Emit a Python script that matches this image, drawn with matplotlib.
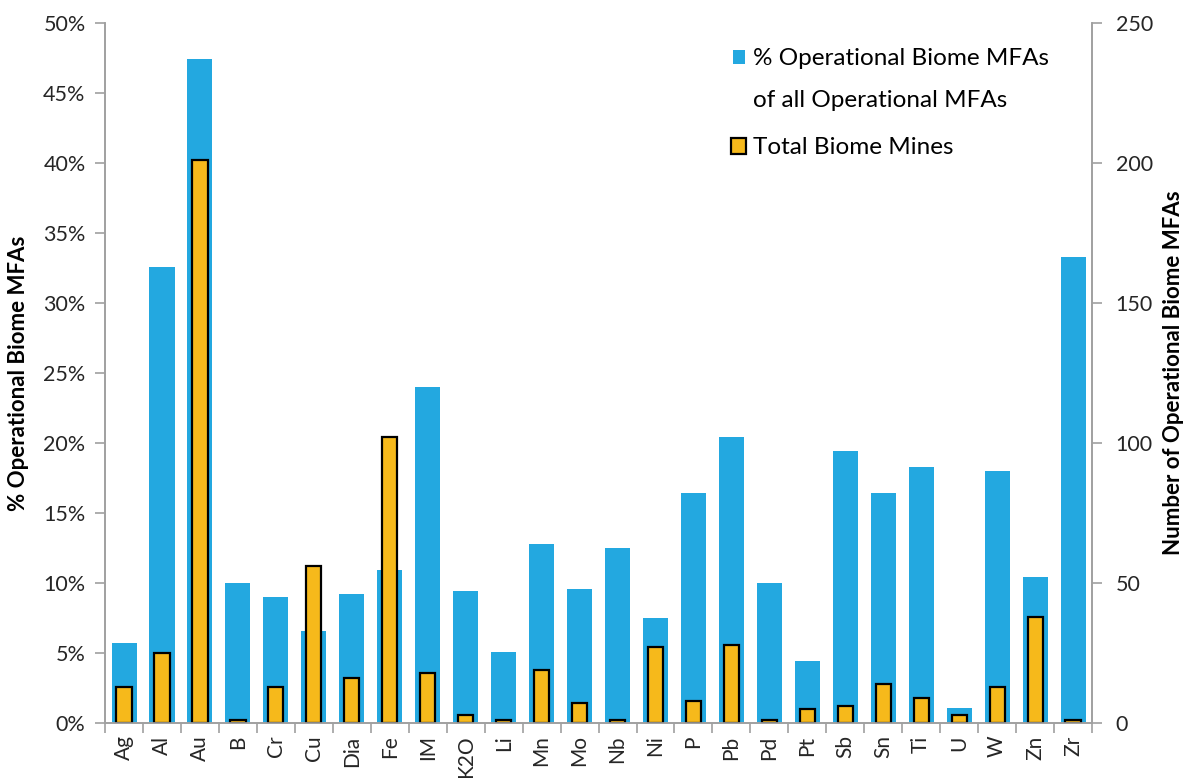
import matplotlib
matplotlib.use("Agg")
import matplotlib.pyplot as plt
from matplotlib.patches import Patch
from matplotlib.ticker import FuncFormatter

# commodities on the x axis
commodities = ["Ag", "Al", "Au", "B", "Cr", "Cu", "Dia", "Fe", "IM", "K2O", "Li", "Mn", "Mo",
               "Nb", "Ni", "P", "Pb", "Pd", "Pt", "Sb", "Sn", "Ti", "U", "W", "Zn", "Zr"]

# % operational biome MFAs of all operational MFAs (left axis)
pct_biome = [5.7, 32.6, 47.4, 10.0, 9.0, 6.6, 9.2, 10.9, 24.0, 9.4, 5.1, 12.8, 9.6,
             12.5, 7.5, 16.4, 20.4, 10.0, 4.4, 19.4, 16.4, 18.3, 1.05, 18.0, 10.4, 33.3]

# total biome mines (right axis)
total_mines = [13, 25, 201, 1, 13, 56, 16, 102, 18, 3, 1, 19, 7,
               1, 27, 8, 28, 1, 5, 6, 14, 9, 3, 13, 38, 1]

blue = "#23a8e0"
gold = "#f6b91b"
grey = "#a0a0a0"
txt = "#262626"

plt.rcParams["font.family"] = ["Lato", "DejaVu Sans"]

fig = plt.figure(figsize=(11.87, 7.78), dpi=100)
ax = fig.add_axes([0.0885, 0.0707, 0.8315, 0.8997])
ax2 = ax.twinx()

x = list(range(len(commodities)))
ax.bar(x, pct_biome, width=0.66, color=blue)
ax2.bar(x, total_mines, width=0.4, color=gold, edgecolor="black", linewidth=1.6)

ax.set_xlim(-0.5, len(commodities) - 0.5)
ax.set_ylim(0, 50)
ax2.set_ylim(0, 250)
ax.set_yticks(range(0, 51, 5))
ax2.set_yticks(range(0, 251, 50))
ax.yaxis.set_major_formatter(FuncFormatter(lambda v, p: "%d%%" % v))

# ticks between categories, labels at centers
ax.set_xticks([i - 0.5 for i in range(len(commodities) + 1)])
ax.set_xticklabels([])
ax.set_xticks(x, minor=True)
ax.set_xticklabels(commodities, minor=True, rotation=90, fontsize=15, color=txt)
ax.tick_params(axis="x", which="minor", length=0, pad=9)
ax.tick_params(axis="x", which="major", length=7, color=grey, width=1.2)
ax.tick_params(axis="y", length=7, color=grey, width=1.2, labelsize=15.5, labelcolor=txt, pad=7)
ax2.tick_params(axis="y", length=7, color=grey, width=1.2, labelsize=15.5, labelcolor=txt, pad=10)

for a in (ax, ax2):
    a.spines["top"].set_visible(False)
    for s in ("left", "right", "bottom"):
        a.spines[s].set_color(grey)
        a.spines[s].set_linewidth(1.2)

ax.set_ylabel("% Operational Biome MFAs", fontsize=16, fontweight="bold", color="black")
ax.yaxis.set_label_coords(-0.077, 0.5)
ax2.set_ylabel("Number of Operational Biome MFAs", fontsize=16, fontweight="bold",
               color="black", rotation=90)
ax2.yaxis.set_label_coords(1.072, 0.5)

# legend: two separate boxes so the blue marker sits beside the first line
blue_h = [Patch(facecolor=blue, edgecolor="none"), Patch(facecolor="none", edgecolor="none")]
leg1 = ax2.legend(blue_h, ["% Operational Biome MFAs", "of all Operational MFAs"],
                  loc="upper left", bbox_to_anchor=(0.624, 0.981), frameon=False, borderpad=0,
                  fontsize=17.5, handlelength=0.5, handleheight=0.5, handletextpad=0.3,
                  labelspacing=0.85)
ax2.add_artist(leg1)
ax2.legend([Patch(facecolor=gold, edgecolor="black", linewidth=1.6)], ["Total Biome Mines"],
           loc="upper left", bbox_to_anchor=(0.622, 0.854), frameon=False, borderpad=0,
           fontsize=17.5, handlelength=0.62, handleheight=0.62, handletextpad=0.3)

fig.savefig("out.png", dpi=100)
